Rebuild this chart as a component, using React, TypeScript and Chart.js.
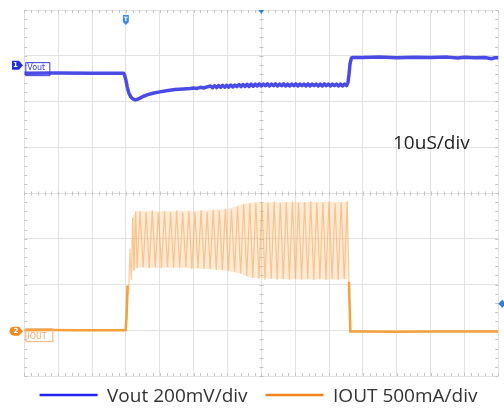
import React, { useEffect, useRef } from "react";
import { Chart, registerables } from "chart.js";

Chart.register(...registerables);

// ---- scope settings ----
const TIME_DIV_US = 10;
const TIME_DIVS = 14;
const VERT_DIVS = 8;
const VOUT_MV_PER_DIV = 200;
const IOUT_MA_PER_DIV = 500;
const VOUT_ZERO_DIV = 6.62; // screen division (from bottom) of the Vout 0 mV reference
const IOUT_ZERO_DIV = 0.98; // screen division (from bottom) of the IOUT 0 mA reference
const VOUT_MARKER_MV = 35;
const IOUT_MARKER_MA = 0;
const TRIGGER_TIME_US = 30;
const TRIGGER_LEVEL_MA = 300;

const SERIES_LABELS = ["Vout 200mV/div", "IOUT 500mA/div"];
const TIMEBASE_LABEL = "10uS/div";
const CHANNEL_TAGS = ["Vout", "IOUT"];
const CHANNEL_NUMBERS = ["1", "2"];

// ---- traces: [time µs, value] ----
const VOUT_TRACE: [number, number][] = [
  [0, 0], [10, 1], [20, -1], [29.3, 0],
  [29.6, -8], [30.0, -30], [30.4, -60], [30.9, -88], [31.5, -105], [32.2, -114],
  [32.8, -117], [33.5, -114], [34.3, -108], [35.2, -101], [36.5, -94], [38.0, -88],
  [40.0, -82], [42.0, -77], [44.5, -72], [47.0, -69], [49.0, -67], [50.0, -65],
  [51.0, -67], [52.0, -62], [53.0, -65], [54.0, -60],
  [55.0, -56], [55.6, -64], [56.2, -55], [56.8, -63], [57.4, -54], [58.0, -62],
  [58.6, -53], [59.2, -61], [59.8, -53], [60.4, -61], [61.0, -52], [61.6, -60],
  [62.2, -52], [62.8, -59], [63.4, -50], [64.0, -59], [64.6, -50], [65.2, -58],
  [65.8, -49], [66.4, -58], [67.0, -48], [67.6, -57], [68.2, -48], [68.8, -56],
  [69.4, -47], [70.0, -56], [70.6, -48], [71.2, -55], [71.8, -47], [72.4, -56],
  [73.0, -48], [73.6, -55], [74.2, -47], [74.8, -56], [75.4, -48], [76.0, -55],
  [76.6, -47], [77.2, -56], [77.8, -48], [78.4, -56], [79.0, -48], [79.6, -55],
  [80.2, -47], [80.8, -56], [81.4, -48], [82.0, -55], [82.6, -48], [83.2, -56],
  [83.8, -47], [84.4, -56], [85.0, -48], [85.6, -55], [86.2, -48], [86.8, -56],
  [87.4, -48], [88.0, -56], [88.6, -47], [89.2, -55], [89.8, -48], [90.4, -56],
  [91.0, -48], [91.6, -55], [92.2, -48], [92.8, -56], [93.4, -48], [94.0, -56],
  [94.6, -48], [95.2, -55],
  [95.6, -40], [95.9, -5], [96.2, 40], [96.6, 66], [97.2, 68],
  [100, 68], [105, 70], [110, 67], [115, 69], [120, 68], [125, 70], [128, 66],
  [130, 69], [133, 67], [136, 68], [138, 63], [139, 67], [140, 67],
];

const IOUT_TRACE: [number, number][] = [
  [0, 10], [8, 12], [16, 9], [24, 11], [29.9, 10],
  [30.2, 150], [30.5, 500], [30.8, 400], [31.2, 900], [31.6, 560], [32.0, 1240],
  [32.4, 660], [32.9, 1310], [33.3, 690],
  [34.2, 1310], [35.1, 700], [36.0, 1300], [36.9, 690], [37.8, 1320], [38.7, 700],
  [39.6, 1300], [40.5, 690], [41.4, 1310], [42.3, 700], [43.2, 1300], [44.1, 690],
  [45.0, 1320], [45.9, 690], [46.8, 1300], [47.7, 700], [48.6, 1310], [49.5, 680],
  [50.4, 1300], [51.3, 690], [52.2, 1320], [53.1, 680], [54.0, 1300], [54.9, 680],
  [55.8, 1330], [56.7, 670], [57.6, 1320], [58.5, 670], [59.4, 1340], [60.3, 660],
  [61.2, 1330], [62.1, 650], [63.0, 1360], [63.9, 630], [64.8, 1390], [65.7, 600],
  [66.6, 1400], [67.5, 580], [68.4, 1410], [69.3, 570], [70.2, 1400], [71.1, 560],
  [72.0, 1410], [72.9, 570], [73.8, 1420], [74.7, 560], [75.6, 1400], [76.5, 570],
  [77.4, 1410], [78.3, 560], [79.2, 1420], [80.1, 570], [81.0, 1400], [81.9, 560],
  [82.8, 1410], [83.7, 570], [84.6, 1420], [85.5, 560], [86.4, 1400], [87.3, 570],
  [88.2, 1410], [89.1, 560], [90.0, 1420], [90.9, 570], [91.8, 1400], [92.7, 560],
  [93.6, 1410], [94.5, 570], [95.4, 1420], [95.9, 540],
  [96.1, 250], [96.3, -5], [100, -5], [110, -6], [120, -4], [130, -5], [140, -5],
];

// persistence envelope of the IOUT ripple burst (upper / lower)
const IOUT_ENV_UPPER: [number, number][] = [
  [31.8, 1240], [33.0, 1310], [45.0, 1312], [55.0, 1322], [60.0, 1338],
  [64.0, 1385], [67.0, 1405], [80.0, 1412], [95.6, 1415],
];
const IOUT_ENV_LOWER: [number, number][] = [
  [31.8, 640], [33.0, 690], [45.0, 692], [55.0, 678], [60.0, 660],
  [64.0, 628], [67.0, 582], [80.0, 565], [95.6, 565],
];

const BURST_START_US = 30.5;
const BURST_END_US = 95.9;

// ---- colours ----
const GRID_COLOR = "#e2e2e2";
const MINOR_TICK_COLOR = "#c4c4c4";
const VOUT_COLOR = "#4a4ae6";
const IOUT_COLOR = "#f5a03a";
const IOUT_BURST_COLOR = "rgba(245,162,72,0.55)";
const IOUT_ENV_FILL = "rgba(249,182,112,0.28)";
const LEGEND_COLORS = ["#2323ee", "#f4821f"];
const TEXT_COLOR = "#333333";
const FONT_FAMILY = '"Open Sans", "Noto Sans", sans-serif';

const scopeDecor = {
  id: "scopeDecor",
  beforeDatasetsDraw(chart: any) {
    const { ctx, chartArea: a, scales } = chart;
    const xs = scales.x;
    const yg = scales.yg;
    ctx.save();
    ctx.strokeStyle = MINOR_TICK_COLOR;
    ctx.lineWidth = 1;
    ctx.beginPath();
    const cy = Math.round(yg.getPixelForValue(VERT_DIVS / 2)) + 0.5;
    const cx = Math.round(xs.getPixelForValue((TIME_DIVS * TIME_DIV_US) / 2)) + 0.5;
    for (let v = 0; v <= TIME_DIVS * TIME_DIV_US + 0.001; v += TIME_DIV_US / 5) {
      const px = Math.round(xs.getPixelForValue(v)) + 0.5;
      ctx.moveTo(px, a.top); ctx.lineTo(px, a.top + 3);
      ctx.moveTo(px, a.bottom); ctx.lineTo(px, a.bottom - 3);
      ctx.moveTo(px, cy - 2); ctx.lineTo(px, cy + 2);
    }
    for (let d = 0; d <= VERT_DIVS + 0.001; d += 0.2) {
      const py = Math.round(yg.getPixelForValue(d)) + 0.5;
      ctx.moveTo(a.left, py); ctx.lineTo(a.left + 3, py);
      ctx.moveTo(a.right, py); ctx.lineTo(a.right - 3, py);
      ctx.moveTo(cx - 2, py); ctx.lineTo(cx + 2, py);
    }
    ctx.stroke();
    ctx.restore();
  },
  afterDatasetsDraw(chart: any) {
    const { ctx, chartArea: a, scales } = chart;
    const xs = scales.x;
    const yV = scales.yV;
    const yI = scales.yI;
    ctx.save();
    // channel tag boxes
    const vy = yV.getPixelForValue(0);
    ctx.strokeStyle = "#3a3ae0";
    ctx.lineWidth = 1;
    ctx.strokeRect(a.left + 1.5, vy - 10.5, 24, 13);
    ctx.fillStyle = "#3a3ae0";
    ctx.font = '8px "DejaVu Sans", sans-serif';
    ctx.textBaseline = "alphabetic";
    ctx.fillText(CHANNEL_TAGS[0], a.left + 3, vy - 3);
    const iy = yI.getPixelForValue(0);
    ctx.strokeStyle = "#f0b277";
    ctx.strokeRect(a.left + 1.5, iy - 2.5, 27, 13);
    ctx.fillStyle = "#e9a86a";
    ctx.fillText(CHANNEL_TAGS[1], a.left + 3, iy + 7.5);

    // channel markers on the left edge
    const m1 = yV.getPixelForValue(VOUT_MARKER_MV);
    ctx.fillStyle = "#2030d8";
    ctx.beginPath();
    ctx.moveTo(12, m1 - 4.5); ctx.lineTo(19, m1 - 4.5); ctx.lineTo(23, m1);
    ctx.lineTo(19, m1 + 4.5); ctx.lineTo(12, m1 + 4.5); ctx.closePath();
    ctx.fill();
    ctx.fillStyle = "#ffffff";
    ctx.font = 'bold 7px "DejaVu Sans", sans-serif';
    ctx.textAlign = "center";
    ctx.textBaseline = "middle";
    ctx.fillText(CHANNEL_NUMBERS[0], 15.5, m1 + 0.5);
    const m2 = yI.getPixelForValue(IOUT_MARKER_MA);
    ctx.fillStyle = "#f08a22";
    ctx.beginPath();
    ctx.moveTo(14, m2 - 4.5); ctx.lineTo(19, m2 - 4.5); ctx.lineTo(23, m2);
    ctx.lineTo(19, m2 + 4.5); ctx.lineTo(14, m2 + 4.5);
    ctx.arc(14, m2, 4.5, Math.PI / 2, (3 * Math.PI) / 2);
    ctx.closePath();
    ctx.fill();
    ctx.fillStyle = "#ffffff";
    ctx.fillText(CHANNEL_NUMBERS[1], 16, m2 + 0.5);

    // trigger position marker
    const tx = xs.getPixelForValue(TRIGGER_TIME_US);
    ctx.fillStyle = "#3d8ee0";
    ctx.beginPath();
    ctx.moveTo(tx - 3, a.top + 5); ctx.lineTo(tx + 3, a.top + 5);
    ctx.lineTo(tx + 3, a.top + 12); ctx.lineTo(tx, a.top + 15); ctx.lineTo(tx - 3, a.top + 12);
    ctx.closePath();
    ctx.fill();
    ctx.fillStyle = "#ffffff";
    ctx.font = 'bold 6px "DejaVu Sans", sans-serif';
    ctx.fillText("T", tx, a.top + 9.5);

    // centre-of-screen marker
    const mx = xs.getPixelForValue((TIME_DIVS * TIME_DIV_US) / 2);
    ctx.fillStyle = "#3a7fd8";
    ctx.beginPath();
    ctx.moveTo(mx - 3, a.top); ctx.lineTo(mx + 3, a.top); ctx.lineTo(mx, a.top + 4);
    ctx.closePath();
    ctx.fill();

    // trigger level marker
    const ty = yI.getPixelForValue(TRIGGER_LEVEL_MA);
    ctx.fillStyle = "#2a7de1";
    ctx.beginPath();
    ctx.moveTo(a.right + 4, ty - 4); ctx.lineTo(a.right + 8, ty);
    ctx.lineTo(a.right + 4, ty + 4); ctx.lineTo(a.right, ty);
    ctx.closePath();
    ctx.fill();
    ctx.restore();
  },
  afterDraw(chart: any) {
    const { ctx, chartArea: a } = chart;
    ctx.save();
    ctx.font = `19px ${FONT_FAMILY}`;
    ctx.fillStyle = "#222222";
    ctx.textBaseline = "alphabetic";
    ctx.textAlign = "left";
    ctx.fillText(TIMEBASE_LABEL, 393, 149);

    // legend
    const lineLen = 58;
    const gapText = 9.5;
    const gapItem = 18;
    const labels = SERIES_LABELS;
    const widths = labels.map((t: string) => ctx.measureText(t).width);
    let total = 0;
    widths.forEach((w: number, i: number) => {
      total += lineLen + gapText + w + (i < widths.length - 1 ? gapItem : 0);
    });
    let x = (a.left + a.right) / 2 - 2.8 - total / 2;
    const ly = 395;
    labels.forEach((t: string, i: number) => {
      ctx.strokeStyle = LEGEND_COLORS[i];
      ctx.lineWidth = 2.5;
      ctx.beginPath();
      ctx.moveTo(x, ly); ctx.lineTo(x + lineLen, ly);
      ctx.stroke();
      ctx.fillStyle = TEXT_COLOR;
      ctx.fillText(t, x + lineLen + gapText, 402);
      x += lineLen + gapText + widths[i] + gapItem;
    });
    ctx.restore();
  },
};

function inBurst(ctx: any) {
  return ctx.p0.parsed.x >= BURST_START_US && ctx.p1.parsed.x <= BURST_END_US;
}

const toXY = (arr: [number, number][]) => arr.map(([x, y]) => ({ x, y }));

export default function App() {
  const canvasRef = useRef<HTMLCanvasElement | null>(null);

  useEffect(() => {
    if (!canvasRef.current) return;
    const chart = new Chart(canvasRef.current, {
      type: "line",
      data: {
        datasets: [
          {
            label: SERIES_LABELS[0],
            data: toXY(VOUT_TRACE),
            yAxisID: "yV",
            borderColor: VOUT_COLOR,
            borderWidth: 3.5,
            pointRadius: 0,
            tension: 0,
            borderJoinStyle: "round",
          },
          {
            label: SERIES_LABELS[1],
            data: toXY(IOUT_TRACE),
            yAxisID: "yI",
            borderColor: IOUT_COLOR,
            borderWidth: 2.5,
            pointRadius: 0,
            tension: 0,
            segment: {
              borderColor: (c: any) => (inBurst(c) ? IOUT_BURST_COLOR : undefined),
              borderWidth: (c: any) => (inBurst(c) ? 1.2 : undefined),
            },
          },
          {
            label: "IOUT envelope upper",
            data: toXY(IOUT_ENV_UPPER),
            yAxisID: "yI",
            borderWidth: 0,
            borderColor: "rgba(0,0,0,0)",
            backgroundColor: IOUT_ENV_FILL,
            pointRadius: 0,
            tension: 0,
            fill: "+1",
          },
          {
            label: "IOUT envelope lower",
            data: toXY(IOUT_ENV_LOWER),
            yAxisID: "yI",
            borderWidth: 0,
            borderColor: "rgba(0,0,0,0)",
            pointRadius: 0,
            tension: 0,
            fill: false,
          },
        ],
      },
      options: {
        responsive: false,
        animation: false,
        events: [],
        layout: { padding: { left: 24.3, right: 5.7, top: 10, bottom: 32 } },
        plugins: { legend: { display: false }, tooltip: { enabled: false } },
        scales: {
          x: {
            type: "linear",
            min: 0,
            max: TIME_DIVS * TIME_DIV_US,
            ticks: { display: false, stepSize: TIME_DIV_US },
            grid: { color: GRID_COLOR, drawTicks: false },
            border: { display: false },
          },
          yg: {
            type: "linear",
            position: "left",
            min: 0,
            max: VERT_DIVS,
            ticks: { display: false, stepSize: 1 },
            grid: { color: GRID_COLOR, drawTicks: false },
            border: { display: false },
          },
          yV: {
            type: "linear",
            display: false,
            min: -VOUT_ZERO_DIV * VOUT_MV_PER_DIV,
            max: (VERT_DIVS - VOUT_ZERO_DIV) * VOUT_MV_PER_DIV,
          },
          yI: {
            type: "linear",
            display: false,
            min: -IOUT_ZERO_DIV * IOUT_MA_PER_DIV,
            max: (VERT_DIVS - IOUT_ZERO_DIV) * IOUT_MA_PER_DIV,
          },
        },
      } as any,
      plugins: [scopeDecor],
    });
    return () => chart.destroy();
  }, []);

  return (
    <div style={{ position: "absolute", left: 0, top: 0, width: 504, height: 408, background: "#ffffff" }}>
      <canvas ref={canvasRef} width={504} height={408} style={{ width: 504, height: 408, display: "block" }} />
    </div>
  );
}
